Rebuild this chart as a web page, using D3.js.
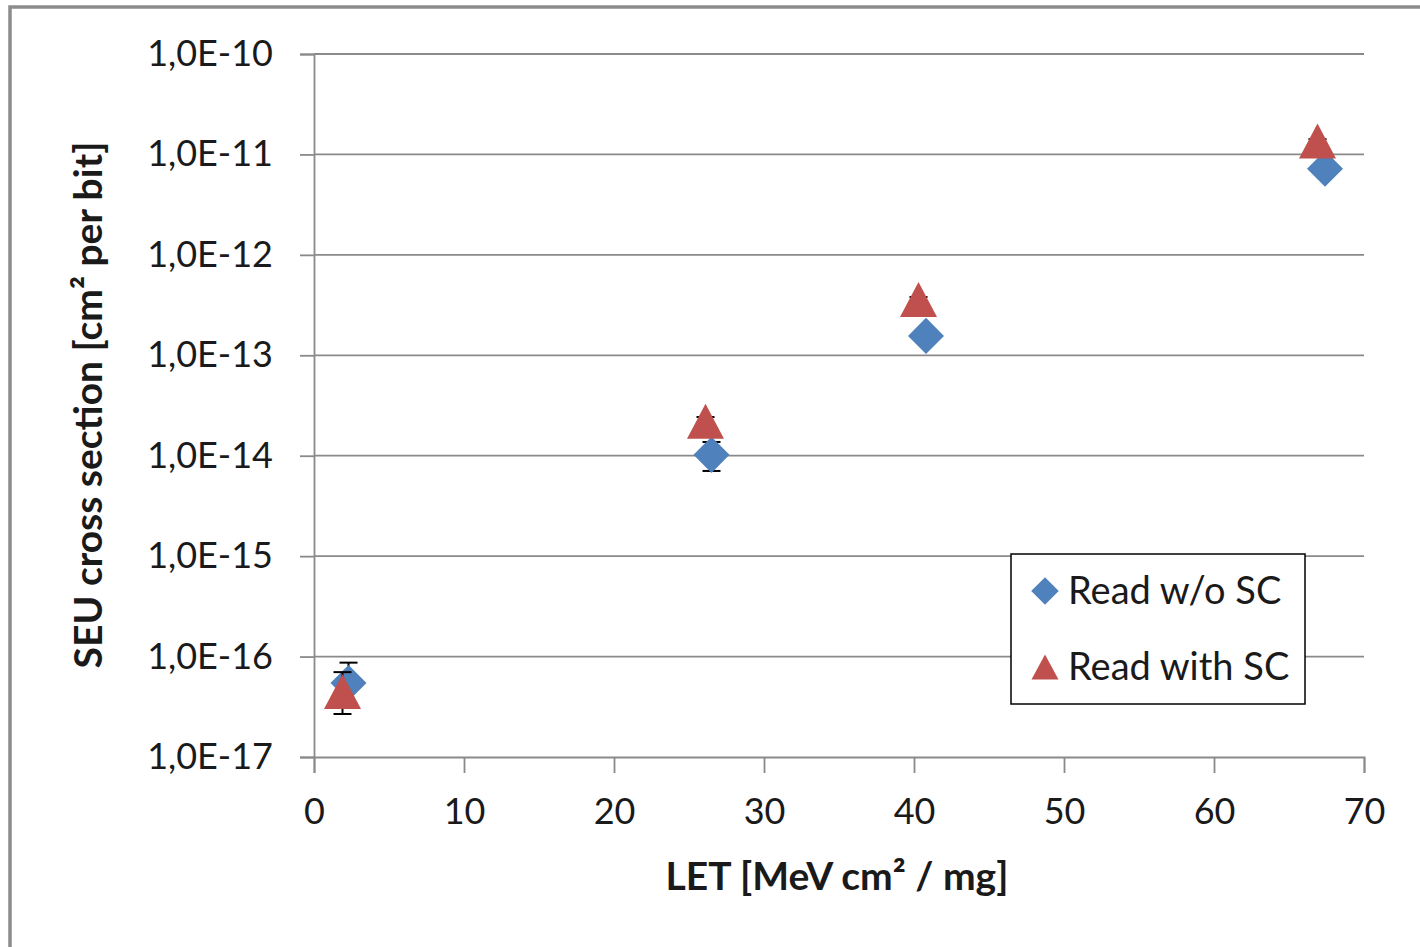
<!DOCTYPE html>
<html>
<head>
<meta charset="utf-8">
<script src="https://cdn.jsdelivr.net/npm/d3@7"></script>
<style>
  html, body { margin: 0; padding: 0; background: #fff; }
  svg { display: block; }
  text { font-family: Lato, "Open Sans", sans-serif; fill: #1a1a1a; }
</style>
</head>
<body>
<svg id="chart" width="1420" height="947"></svg>
<script>
// LET values (MeV cm² / mg) and SEU cross sections (cm² per bit)
const letWithoutSC = [2.3, 26.5, 40.8, 67.4];
const sigmaWithoutSC = [5.45e-17, 1.02e-14, 1.56e-13, 7.2e-12];
const sigmaWithoutSCLow = [3.4e-17, 7.05e-15, 1.50e-13, 6.9e-12];
const sigmaWithoutSCHigh = [8.7e-17, 1.37e-14, 1.62e-13, 7.5e-12];

const letWithSC = [1.9, 26.1, 40.3, 66.9];
const sigmaWithSC = [4.5e-17, 2.2e-14, 3.6e-13, 1.36e-11];
const sigmaWithSCLow = [2.68e-17, 2.0e-14, 3.4e-13, 1.30e-11];
const sigmaWithSCHigh = [7.0e-17, 2.43e-14, 3.8e-13, 1.42e-11];

const xTicks = [0, 10, 20, 30, 40, 50, 60, 70];
const yTicks = [1e-17, 1e-16, 1e-15, 1e-14, 1e-13, 1e-12, 1e-11, 1e-10];
const yTickLabels = ["1,0E-17", "1,0E-16", "1,0E-15", "1,0E-14", "1,0E-13", "1,0E-12", "1,0E-11", "1,0E-10"];

const seriesNames = ["Read w/o SC", "Read with SC"];
const seriesColors = ["#4F81BD", "#C0504D"];

const svg = d3.select("#chart");

// outer chart frame
svg.append("rect")
  .attr("x", 10).attr("y", 7)
  .attr("width", 1430).attr("height", 960)
  .attr("fill", "#fff")
  .attr("stroke", "#8c8c8c")
  .attr("stroke-width", 3.5);

const x = d3.scaleLinear().domain([0, 70]).range([314, 1364]);
const y = d3.scaleLog().domain([1e-17, 1e-10]).range([757, 54]);

const gridColor = "#8a8a8a";

// horizontal gridlines
svg.append("g")
  .selectAll("line")
  .data(yTicks.slice(1))
  .join("line")
  .attr("x1", x(0)).attr("x2", x(70))
  .attr("y1", d => y(d)).attr("y2", d => y(d))
  .attr("stroke", gridColor).attr("stroke-width", 1.8);

// x axis
const xAxis = svg.append("g")
  .attr("transform", `translate(0,${y(1e-17)})`)
  .call(d3.axisBottom(x).tickValues(xTicks).tickSize(16).tickPadding(25).tickFormat(d3.format("d")));
xAxis.select(".domain").attr("stroke", gridColor).attr("stroke-width", 1.8);
xAxis.selectAll(".tick line").attr("stroke", gridColor).attr("stroke-width", 1.8);
xAxis.selectAll(".tick text")
  .style("font-family", "Lato, sans-serif").style("font-size", "36px").attr("fill", "#1a1a1a");

// y axis
const yAxis = svg.append("g")
  .attr("transform", `translate(${x(0)},0)`)
  .call(d3.axisLeft(y).tickValues(yTicks).tickSize(14).tickPadding(27)
    .tickFormat((d, i) => yTickLabels[i]));
yAxis.select(".domain").attr("stroke", gridColor).attr("stroke-width", 1.8);
yAxis.selectAll(".tick line").attr("stroke", gridColor).attr("stroke-width", 1.8);
yAxis.selectAll(".tick text")
  .style("font-family", "Lato, sans-serif").style("font-size", "36px").attr("fill", "#1a1a1a");

// axis titles
svg.append("text")
  .attr("x", 837).attr("y", 890)
  .attr("text-anchor", "middle")
  .style("font-size", "39px").style("font-weight", "bold")
  .text("LET [MeV cm² / mg]");

svg.append("text")
  .attr("transform", "translate(102,405) rotate(-90)")
  .attr("text-anchor", "middle")
  .style("font-size", "39px").style("font-weight", "bold")
  .text("SEU cross section [cm² per bit]");

const capHalf = 9;

function errorBars(g, xs, lo, hi) {
  const data = xs.map((v, i) => ({ x: v, lo: lo[i], hi: hi[i] }));
  const eg = g.append("g").attr("stroke", "#000").attr("stroke-width", 2);
  eg.selectAll(".stem").data(data).join("line")
    .attr("x1", d => x(d.x)).attr("x2", d => x(d.x))
    .attr("y1", d => y(d.lo)).attr("y2", d => y(d.hi));
  eg.selectAll(".capLo").data(data).join("line")
    .attr("x1", d => x(d.x) - capHalf).attr("x2", d => x(d.x) + capHalf)
    .attr("y1", d => y(d.lo)).attr("y2", d => y(d.lo));
  eg.selectAll(".capHi").data(data).join("line")
    .attr("x1", d => x(d.x) - capHalf).attr("x2", d => x(d.x) + capHalf)
    .attr("y1", d => y(d.hi)).attr("y2", d => y(d.hi));
}

const diamond = d3.symbol().type(d3.symbolSquare).size(650);
function trianglePath(w, h) {
  return `M0,${-h / 2}L${w / 2},${h / 2}L${-w / 2},${h / 2}Z`;
}

const plot = svg.append("g");

// series 1: read without scrubbing
errorBars(plot, letWithoutSC, sigmaWithoutSCLow, sigmaWithoutSCHigh);
plot.append("g").selectAll("path")
  .data(letWithoutSC.map((v, i) => [v, sigmaWithoutSC[i]]))
  .join("path")
  .attr("d", diamond)
  .attr("transform", d => `translate(${x(d[0])},${y(d[1])}) rotate(45)`)
  .attr("fill", seriesColors[0]);

// series 2: read with scrubbing
errorBars(plot, letWithSC, sigmaWithSCLow, sigmaWithSCHigh);
plot.append("g").selectAll("path")
  .data(letWithSC.map((v, i) => [v, sigmaWithSC[i]]))
  .join("path")
  .attr("d", trianglePath(37, 35))
  .attr("transform", d => `translate(${x(d[0])},${y(d[1])})`)
  .attr("fill", seriesColors[1]);

// legend
const legend = svg.append("g");
legend.append("rect")
  .attr("x", 1011).attr("y", 554).attr("width", 294).attr("height", 150)
  .attr("fill", "#fff").attr("stroke", "#000").attr("stroke-width", 1.5);
legend.append("path")
  .attr("d", d3.symbol().type(d3.symbolSquare).size(380))
  .attr("transform", "translate(1045,591) rotate(45)")
  .attr("fill", seriesColors[0]);
legend.append("path")
  .attr("d", trianglePath(27, 25))
  .attr("transform", "translate(1045,667)")
  .attr("fill", seriesColors[1]);
legend.selectAll("text.lg").data(seriesNames).join("text")
  .attr("x", 1068).attr("y", (d, i) => 604 + i * 76)
  .style("font-size", "38px")
  .text(d => d);
</script>
</body>
</html>
